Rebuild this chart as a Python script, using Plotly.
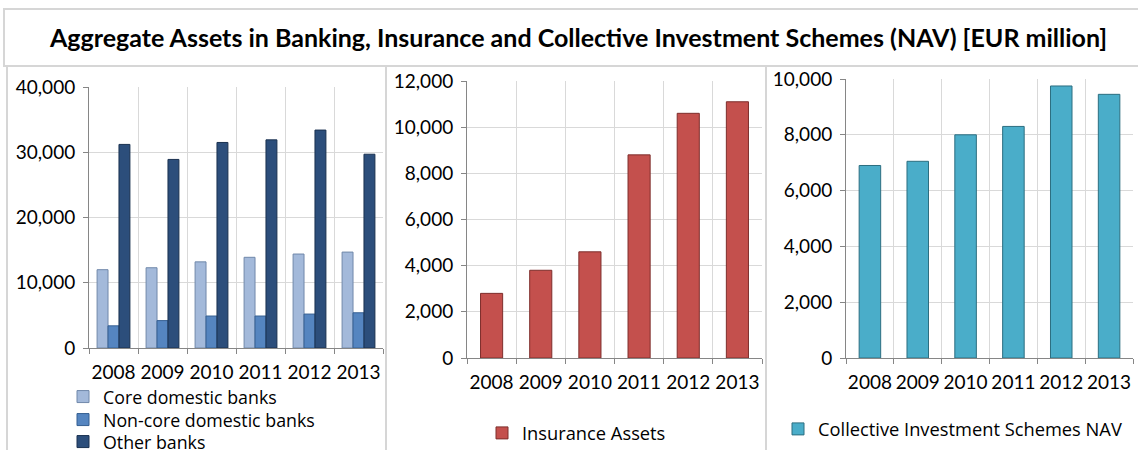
import plotly.graph_objects as go

# Reporting years and aggregate values (EUR million)
years = ["2008", "2009", "2010", "2011", "2012", "2013"]
core_banks = [12000, 12300, 13200, 13900, 14400, 14700]
noncore_banks = [3400, 4200, 4900, 4900, 5200, 5400]
other_banks = [31200, 28900, 31500, 31900, 33400, 29700]
insurance_assets = [2800, 3800, 4600, 8800, 10600, 11100]
cis_nav = [6900, 7050, 8000, 8300, 9750, 9450]

title_text = ("Aggregate Assets in Banking, Insurance and Collective "
              "Investment Schemes (NAV) [EUR million]")

W, H = 1138, 450
FONT = "Lato"
LEGEND_FONT = "Open Sans"
GRID = "#D9D9D9"
AXIS = "#868686"


def px(x):
    return x / W


def py(y):
    return 1 - y / H


fig = go.Figure()

# Banking panel: three grouped series, each keyed in its own legend row
fig.add_trace(go.Bar(x=years, y=core_banks, name="Core domestic banks",
                     marker=dict(color="#A3B9DA", line=dict(color="#7088AA", width=1)),
                     xaxis="x", yaxis="y", legend="legend"))
fig.add_trace(go.Bar(x=years, y=noncore_banks, name="Non-core domestic banks",
                     marker=dict(color="#5585C0", line=dict(color="#355F92", width=1)),
                     xaxis="x", yaxis="y", legend="legend4"))
fig.add_trace(go.Bar(x=years, y=other_banks, name="Other banks",
                     marker=dict(color="#2C4E7B", line=dict(color="#1A3150", width=1)),
                     xaxis="x", yaxis="y", legend="legend5"))

# Insurance panel
fig.add_trace(go.Bar(x=years, y=insurance_assets, name="Insurance Assets", width=0.45,
                     marker=dict(color="#C4504D", line=dict(color="#7E2E2C", width=1)),
                     xaxis="x2", yaxis="y2", legend="legend2"))

# Collective investment schemes panel
fig.add_trace(go.Bar(x=years, y=cis_nav, name="Collective Investment Schemes NAV", width=0.45,
                     marker=dict(color="#4AADC9", line=dict(color="#2C6E80", width=1)),
                     xaxis="x3", yaxis="y3", legend="legend3"))


def xaxis_style(x0, x1, anchor):
    return dict(domain=[px(x0), px(x1)], anchor=anchor, type="category",
                range=[-0.5, 5.5], tickson="boundaries", showgrid=True,
                gridcolor=GRID, gridwidth=1, showline=True, linecolor=AXIS,
                linewidth=1, ticks="outside", ticklen=5, tickcolor=AXIS,
                tickangle=0, ticklabelstandoff=7,
                tickfont=dict(family=FONT, size=19, color="#000000"),
                fixedrange=True)


def yaxis_style(y0, y1, top, step, anchor):
    return dict(domain=[py(y0), py(y1)], anchor=anchor, range=[0, top],
                dtick=step, tick0=0, showgrid=True, gridcolor=GRID, gridwidth=1,
                showline=True, linecolor=AXIS, linewidth=1, ticks="outside",
                ticklen=5, tickcolor=AXIS, tickformat=",d", zeroline=False,
                ticklabelstandoff=4,
                tickfont=dict(family=FONT, size=19, color="#000000"),
                fixedrange=True)


def legend_style(size):
    return dict(font=dict(family=LEGEND_FONT, size=size, color="#000000"),
                bgcolor="rgba(0,0,0,0)", borderwidth=0,
                xanchor="left", yanchor="top", tracegroupgap=0,
                orientation="v", itemclick=False, itemdoubleclick=False)


LEG_OFF = 18.5  # distance from legend top to its row centre
bank_legend = legend_style(17.8)
single_legend = legend_style(18.3)

# Panel frames and title box
frame = dict(type="rect", xref="paper", yref="paper",
             line=dict(color="#D6D6D6", width=2), fillcolor="rgba(0,0,0,0)")
shapes = [
    dict(frame, x0=px(4), x1=px(1139), y0=py(9), y1=py(66)),
    dict(frame, x0=px(7), x1=px(386), y0=py(66), y1=py(460)),
    dict(frame, x0=px(386), x1=px(766), y0=py(66), y1=py(460)),
    dict(frame, x0=px(766), x1=px(1139), y0=py(66), y1=py(460)),
]

fig.update_layout(
    width=W, height=H,
    margin=dict(l=0, r=0, t=0, b=0, autoexpand=False),
    paper_bgcolor="#FFFFFF", plot_bgcolor="#FFFFFF",
    barmode="group", bargap=0.33, bargroupgap=0,
    font=dict(family=FONT, size=18, color="#000000"),
    xaxis=xaxis_style(89, 383, "y"),
    yaxis=yaxis_style(348, 87, 40000, 10000, "x"),
    xaxis2=xaxis_style(467, 762, "y2"),
    yaxis2=yaxis_style(358, 81, 12000, 2000, "x2"),
    xaxis3=xaxis_style(846, 1133, "y3"),
    yaxis3=yaxis_style(358, 79, 10000, 2000, "x3"),
    legend=dict(bank_legend, x=px(63), y=py(397 - LEG_OFF)),
    legend4=dict(bank_legend, x=px(63), y=py(420 - LEG_OFF)),
    legend5=dict(bank_legend, x=px(63), y=py(442 - LEG_OFF)),
    legend2=dict(single_legend, x=px(482), y=py(433 - LEG_OFF)),
    legend3=dict(single_legend, x=px(778), y=py(429 - LEG_OFF)),
    shapes=shapes,
    annotations=[dict(text="<b>" + title_text + "</b>", xref="paper", yref="paper",
                      x=px(578), y=py(37), xanchor="center", yanchor="middle",
                      showarrow=False,
                      font=dict(family=FONT, size=25, color="#000000"))],
    showlegend=True,
)

fig.write_html("out.html", config=dict(displayModeBar=False))
